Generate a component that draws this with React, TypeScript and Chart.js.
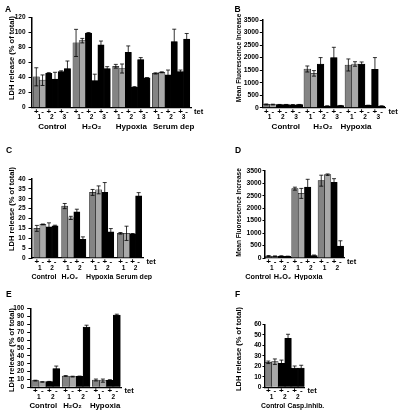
import React, { useEffect, useRef } from "react";
import { Chart, registerables } from "chart.js";

Chart.register(...registerables);

const FONT = "'Liberation Sans', Arial, Helvetica, sans-serif";
const GRAY_DARK = "#848484";
const GRAY_LIGHT = "#a9a9a9";
const BAR_BLACK = "#000000";

// ---------- Panel A : LDH release, clones 1-3, +/- tet ----------
const aGroups = ["Control", "H₂O₂", "Hypoxia", "Serum dep"];
const a1Plus = [41, 86, 55, 45.5];
const a1PlusErr = [12, 18, 2.5, 0.8];
const a1Minus = [36.5, 89, 52, 47];
const a1MinusErr = [7, 3, 6, 0.6];
const a2Plus = [45.5, 99, 73.5, 43.5];
const a2PlusErr = [1, 0.8, 8.5, 6.5];
const a2Minus = [38, 36, 27, 87.7];
const a2MinusErr = [9, 8.5, 1, 16.5];
const a3Plus = [48, 83.5, 64, 48];
const a3PlusErr = [1, 5, 2.5, 2];
const a3Minus = [52, 52, 39.5, 91];
const a3MinusErr = [10, 2.5, 0.5, 7.5];

// ---------- Panel B : Mean fluorescence increase ----------
const bGroups = ["Control", "H₂O₂", "Hypoxia"];
const b1Plus = [130, 1545, 1705];
const b1PlusErr = [20, 120, 240];
const b1Minus = [125, 1370, 1745];
const b1MinusErr = [15, 110, 90];
const b2Plus = [120, 1745, 1745];
const b2PlusErr = [10, 255, 80];
const b2Minus = [120, 65, 90];
const b2MinusErr = [10, 10, 10];
const b3Plus = [115, 2000, 1530];
const b3PlusErr = [10, 410, 470];
const b3Minus = [120, 80, 65];
const b3MinusErr = [10, 10, 10];

// ---------- Panel C : LDH release, clones 1-2 ----------
const cGroups = ["Control", "H₂O₂", "Hypoxia", "Serum dep"];
const c1Plus = [15, 26.3, 33.2, 12.5];
const c1PlusErr = [1.5, 1.3, 1.5, 0.4];
const c1Minus = [17, 20.3, 34.5, 12.5];
const c1MinusErr = [0.2, 0.8, 2, 3.6];
const c2Plus = [15.8, 23.4, 33.2, 12.2];
const c2PlusErr = [2, 1.3, 5, 0.2];
const c2Minus = [16.3, 9.5, 13.3, 31.5];
const c2MinusErr = [0.3, 1.2, 1.6, 1.6];

// ---------- Panel D : Mean fluorescence increase, clones 1-2 ----------
const dGroups = ["Control", "H₂O₂", "Hypoxia"];
const d1Plus = [80, 2780, 3100];
const d1PlusErr = [20, 60, 220];
const d1Minus = [70, 2590, 3340];
const d1MinusErr = [15, 200, 30];
const d2Plus = [75, 2845, 3030];
const d2PlusErr = [15, 310, 150];
const d2Minus = [65, 95, 480];
const d2MinusErr = [10, 25, 210];

// ---------- Panel E : LDH release ----------
const eGroups = ["Control", "H₂O₂", "Hypoxia"];
const e1Plus = [8.5, 14.4, 9.3];
const e1PlusErr = [0.5, 0.5, 1.2];
const e1Minus = [6.8, 13.6, 8.5];
const e1MinusErr = [0.3, 0.5, 2];
const e2Plus = [7.2, 14, 8.9];
const e2PlusErr = [0.3, 0.3, 0.8];
const e2Minus = [23.7, 76.7, 92];
const e2MinusErr = [3.3, 2.3, 1];

// ---------- Panel F : LDH release with caspase inhibitor ----------
const fGroups = ["Control", "Casp.inhib."];
const fBarLabels = ["Control 1+", "Control 1-", "Control 2+", "Control 2-", "Casp.inhib. 2+", "Casp.inhib. 2-"];
const fSigns = ["+", "-", "+", "-", "+", "-"];
const fClones = ["1", "1", "2", "2", "2", "2"];
const fGroupOf = [0, 0, 0, 0, 1, 1];
const fValues = [23.8, 24.4, 22.9, 46.7, 18.4, 18.4];
const fErrors = [1.2, 2.6, 3, 3.8, 1.9, 2.6];

const LDH_TITLE = "LDH release (% of total)";
const MFI_TITLE = "Mean Fluorescence Increase";

type Series = { clone: string; sign: string; values: number[]; errors: number[] };

type Frame = {
  left: number; top: number; width: number; height: number;
  axisX: number; areaTop: number; areaBottom: number; areaRight: number;
  titleX: number; titleY: number; titleFont: number;
  letterX: number; letterY: number;
  catPct: number; tickFont: number; tickLen: number; tickPad: number; groupFont: number; groupShift: number[];
};

type PanelSpec = {
  letter: string;
  title: string;
  yMax: number;
  yStep: number;
  frame: Frame;
  kind: "grouped" | "single";
  groups: string[];
  series?: Series[];
};

const mk = (clone: string, sign: string, values: number[], errors: number[]): Series => ({ clone, sign, values, errors });

const seriesColor = (i: number) => (i === 0 ? GRAY_DARK : i === 1 ? GRAY_LIGHT : BAR_BLACK);

const panels: PanelSpec[] = [
  {
    letter: "A", title: LDH_TITLE, yMax: 120, yStep: 20, kind: "grouped", groups: aGroups,
    series: [
      mk("1", "+", a1Plus, a1PlusErr), mk("1", "-", a1Minus, a1MinusErr),
      mk("2", "+", a2Plus, a2PlusErr), mk("2", "-", a2Minus, a2MinusErr),
      mk("3", "+", a3Plus, a3PlusErr), mk("3", "-", a3Minus, a3MinusErr),
    ],
    frame: { left: 0, top: 0, width: 215, height: 140, axisX: 32, areaTop: 17.3, areaBottom: 107.7, areaRight: 191,
      titleX: 12, titleY: 58, titleFont: 7.5, letterX: 5, letterY: 9.5, catPct: 0.94, tickFont: 6.5, tickLen: 3.5, tickPad: 3,
      groupFont: 8, groupShift: [0.5, 0, 0, 2.5] },
  },
  {
    letter: "B", title: MFI_TITLE, yMax: 3500, yStep: 500, kind: "grouped", groups: bGroups,
    series: [
      mk("1", "+", b1Plus, b1PlusErr), mk("1", "-", b1Minus, b1MinusErr),
      mk("2", "+", b2Plus, b2PlusErr), mk("2", "-", b2Minus, b2MinusErr),
      mk("3", "+", b3Plus, b3PlusErr), mk("3", "-", b3Minus, b3MinusErr),
    ],
    frame: { left: 200, top: 0, width: 200, height: 140, axisX: 262.3, areaTop: 20, areaBottom: 107.7, areaRight: 385.5,
      titleX: 239, titleY: 58, titleFont: 6.5, letterX: 234.5, letterY: 9.5, catPct: 0.97, tickFont: 6.8, tickLen: 2.5, tickPad: 1,
      groupFont: 8, groupShift: [3, -1, -9] },
  },
  {
    letter: "C", title: LDH_TITLE, yMax: 40, yStep: 5, kind: "grouped", groups: cGroups,
    series: [
      mk("1", "+", c1Plus, c1PlusErr), mk("1", "-", c1Minus, c1MinusErr),
      mk("2", "+", c2Plus, c2PlusErr), mk("2", "-", c2Minus, c2MinusErr),
    ],
    frame: { left: 0, top: 140, width: 200, height: 140, axisX: 32, areaTop: 179, areaBottom: 258, areaRight: 143.5,
      titleX: 12, titleY: 209, titleFont: 7.5, letterX: 6, letterY: 150.7, catPct: 0.87, tickFont: 6.5, tickLen: 3.5, tickPad: 3,
      groupFont: 7, groupShift: [-2, -4, -2, 4.4] },
  },
  {
    letter: "D", title: MFI_TITLE, yMax: 3500, yStep: 500, kind: "grouped", groups: dGroups,
    series: [
      mk("1", "+", d1Plus, d1PlusErr), mk("1", "-", d1Minus, d1MinusErr),
      mk("2", "+", d2Plus, d2PlusErr), mk("2", "-", d2Minus, d2MinusErr),
    ],
    frame: { left: 200, top: 140, width: 200, height: 140, axisX: 265, areaTop: 170.7, areaBottom: 258, areaRight: 344,
      titleX: 239, titleY: 212.5, titleFont: 6.5, letterX: 235, letterY: 150.7, catPct: 0.97, tickFont: 6.8, tickLen: 2.5, tickPad: 1,
      groupFont: 7.3, groupShift: [-20, -22, -22.5] },
  },
  {
    letter: "E", title: LDH_TITLE, yMax: 100, yStep: 10, kind: "grouped", groups: eGroups,
    series: [
      mk("1", "+", e1Plus, e1PlusErr), mk("1", "-", e1Minus, e1MinusErr),
      mk("2", "+", e2Plus, e2PlusErr), mk("2", "-", e2Minus, e2MinusErr),
    ],
    frame: { left: 0, top: 280, width: 200, height: 135, axisX: 30.7, areaTop: 308.7, areaBottom: 387.3, areaRight: 121.5,
      titleX: 12, titleY: 350, titleFont: 7.5, letterX: 6, letterY: 295, catPct: 0.92, tickFont: 6.5, tickLen: 3.5, tickPad: 3,
      groupFont: 7.8, groupShift: [-2.5, -3.6, -1.3] },
  },
  {
    letter: "F", title: LDH_TITLE, yMax: 60, yStep: 10, kind: "single", groups: fGroups,
    frame: { left: 200, top: 280, width: 200, height: 135, axisX: 265, areaTop: 324.3, areaBottom: 387.3, areaRight: 304.5,
      titleX: 239, titleY: 349, titleFont: 7.5, letterX: 235, letterY: 295, catPct: 1, tickFont: 6.6, tickLen: 2.5, tickPad: 1,
      groupFont: 6.8, groupShift: [-5, 8] },
  },
];

type BarInfo = { x: number; value: number; err: number; sign: string; clone: string; group: number };

function collectBars(chart: any, spec: PanelSpec): BarInfo[] {
  const out: BarInfo[] = [];
  if (spec.kind === "grouped" && spec.series) {
    for (let g = 0; g < spec.groups.length; g++) {
      spec.series.forEach((s, d) => {
        const el = chart.getDatasetMeta(d).data[g];
        if (!el) return;
        out.push({ x: el.x, value: s.values[g], err: s.errors[g], sign: s.sign, clone: s.clone, group: g });
      });
    }
  } else {
    const meta = chart.getDatasetMeta(0);
    fValues.forEach((v, i) => {
      const el = meta.data[i];
      if (!el) return;
      out.push({ x: el.x, value: v, err: fErrors[i], sign: fSigns[i], clone: fClones[i], group: fGroupOf[i] });
    });
  }
  return out;
}

function makeAnnotations(spec: PanelSpec) {
  const f = spec.frame;
  return {
    id: "figureAnnotations",
    afterDatasetsDraw(chart: any) {
      const ctx = chart.ctx;
      const ys = chart.scales.y;
      ctx.save();
      ctx.strokeStyle = "#000";
      ctx.lineWidth = 0.8;
      for (const b of collectBars(chart, spec)) {
        if (!b.err) continue;
        const yt = ys.getPixelForValue(b.value + b.err);
        const yb = ys.getPixelForValue(Math.max(0, b.value - b.err));
        ctx.beginPath();
        ctx.moveTo(b.x, yb);
        ctx.lineTo(b.x, yt);
        ctx.moveTo(b.x - 2, yt);
        ctx.lineTo(b.x + 2, yt);
        ctx.moveTo(b.x - 2, yb);
        ctx.lineTo(b.x + 2, yb);
        ctx.stroke();
      }
      ctx.restore();
    },
    afterDraw(chart: any) {
      const ctx = chart.ctx;
      const area = chart.chartArea;
      const bars = collectBars(chart, spec);
      ctx.save();
      ctx.fillStyle = "#000";
      ctx.textBaseline = "middle";
      ctx.textAlign = "center";
      // +/- signs under each bar
      ctx.font = `bold 8px ${FONT}`;
      for (const b of bars) ctx.fillText(b.sign, b.x, area.bottom + 3.8);
      // clone numbers under each +/- pair
      ctx.font = `bold 6.5px ${FONT}`;
      for (let i = 0; i + 1 < bars.length; i += 2) {
        ctx.fillText(bars[i].clone, (bars[i].x + bars[i + 1].x) / 2, area.bottom + 10);
      }
      // treatment group labels
      ctx.font = `bold ${f.groupFont}px ${FONT}`;
      spec.groups.forEach((g, gi) => {
        const xs = bars.filter((b) => b.group === gi).map((b) => b.x);
        if (!xs.length) return;
        const cx = xs.reduce((s, v) => s + v, 0) / xs.length + (f.groupShift[gi] || 0);
        ctx.fillText(g, cx, area.bottom + 18.7);
      });
      // tet
      ctx.textAlign = "left";
      ctx.font = `bold 7.5px ${FONT}`;
      ctx.fillText("tet", area.right + 3, area.bottom + 3.8);
      // panel letter
      ctx.font = `bold 8.5px ${FONT}`;
      ctx.fillText(spec.letter, f.letterX - f.left, f.letterY - f.top);
      // y title
      ctx.translate(f.titleX - f.left, f.titleY - f.top);
      ctx.rotate(-Math.PI / 2);
      ctx.textAlign = "center";
      ctx.font = `bold ${f.titleFont}px ${FONT}`;
      ctx.fillText(spec.title, 0, 0);
      ctx.restore();
    },
  };
}

function buildConfig(spec: PanelSpec): any {
  const f = spec.frame;
  const grouped = spec.kind === "grouped";
  const labels = grouped ? spec.groups : fBarLabels;
  const common = { borderColor: "#000", borderWidth: 0.5, inflateAmount: 0.35, barPercentage: 1 };
  const datasets = grouped
    ? (spec.series || []).map((s, i) => ({
        ...common,
        label: s.clone + s.sign,
        data: s.values,
        backgroundColor: seriesColor(i),
        categoryPercentage: f.catPct,
      }))
    : [
        {
          ...common,
          label: "F",
          data: fValues,
          backgroundColor: fValues.map((_, i) => seriesColor(i)),
          categoryPercentage: 1,
        },
      ];
  return {
    type: "bar",
    data: { labels, datasets },
    options: {
      responsive: false,
      animation: false,
      events: [],
      layout: { padding: { left: 0, top: f.areaTop - f.top, right: f.left + f.width - f.areaRight, bottom: 0 } },
      plugins: { legend: { display: false }, tooltip: { enabled: false }, title: { display: false } },
      scales: {
        x: {
          grid: { display: false, drawTicks: false, tickLength: 0 },
          border: { display: true, color: "#000", width: 1.2 },
          ticks: { display: false },
          afterFit: (s: any) => { s.height = f.top + f.height - f.areaBottom; },
        },
        y: {
          min: 0,
          max: spec.yMax,
          ticks: { stepSize: spec.yStep, autoSkip: false, padding: f.tickPad, color: "#000",
            callback: (v: number) => String(v),
            font: { size: f.tickFont, weight: "bold", family: FONT } },
          grid: { drawOnChartArea: false, drawTicks: true, tickLength: f.tickLen, color: "#000", lineWidth: 1 },
          border: { display: true, color: "#000", width: 1.5 },
          afterFit: (s: any) => { s.width = f.axisX - f.left; },
        },
      },
    },
    plugins: [makeAnnotations(spec)],
  };
}

function Panel({ spec }: { spec: PanelSpec }) {
  const ref = useRef<HTMLCanvasElement | null>(null);
  useEffect(() => {
    if (!ref.current) return;
    const chart = new Chart(ref.current, buildConfig(spec));
    return () => chart.destroy();
  }, [spec]);
  const f = spec.frame;
  return (
    <div style={{ position: "absolute", left: f.left, top: f.top, width: f.width, height: f.height }}>
      <canvas ref={ref} width={f.width} height={f.height} style={{ display: "block", width: f.width, height: f.height }} />
    </div>
  );
}

export default function App() {
  return (
    <div style={{ position: "absolute", left: 0, top: 0, width: 400, height: 415, background: "#fff", overflow: "hidden" }}>
      {panels.map((p) => (
        <Panel key={p.letter} spec={p} />
      ))}
    </div>
  );
}
